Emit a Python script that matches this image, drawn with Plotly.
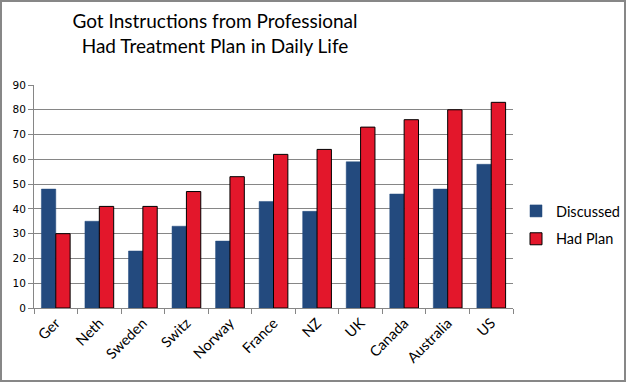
import plotly.graph_objects as go

countries = ["Ger", "Neth", "Sweden", "Switz", "Norway", "France", "NZ", "UK", "Canada", "Australia", "US"]
discussed = [48, 35, 23, 33, 27, 43, 39, 59, 46, 48, 58]
had_plan = [30, 41, 41, 47, 53, 62, 64, 73, 76, 80, 83]
y_ticks = list(range(0, 91, 10))

W, H = 626, 382
L, R, T, B = 34, 113, 85, 74
pw, ph = W - L - R, H - T - B

fig = go.Figure()
fig.add_trace(go.Bar(name="Discussed", x=countries, y=discussed, legendgroup="d",
                     marker=dict(color="#234A7E", line=dict(color="#234A7E", width=0.5))))
fig.add_trace(go.Bar(name="Had Plan", x=countries, y=had_plan, legendgroup="h",
                     marker=dict(color="#E3172B", line=dict(color="#000000", width=1))))

fig.update_layout(
    width=W, height=H, autosize=False,
    margin=dict(l=L, r=R, t=T, b=B, autoexpand=False),
    paper_bgcolor="white", plot_bgcolor="white",
    barmode="group", bargap=0.34, bargroupgap=0,
    title=dict(text="Got Instructions from Professional<br>Had Treatment Plan in Daily Life",
               xref="container", yref="container",
               x=215 / W, xanchor="center", y=1 - 28 / H, yanchor="middle",
               font=dict(family="Lato, Open Sans, sans-serif", size=19, color="#000000")),
    legend=dict(xref="container", yref="container",
                x=516 / W, y=1 - 225 / H, xanchor="left", yanchor="middle",
                font=dict(family="Lato, Open Sans, sans-serif", size=14.5, color="#000000"),
                itemwidth=30, tracegroupgap=6, bgcolor="rgba(0,0,0,0)"),
    xaxis=dict(tickson="boundaries", ticks="outside", ticklen=5, tickcolor="#868686",
               showline=True, linecolor="#868686", linewidth=1, tickangle=-45,
               tickfont=dict(family="Lato, Open Sans, sans-serif", size=14.5, color="#000000"),
               showgrid=False, automargin=False),
    yaxis=dict(range=[0, 90], tickvals=y_ticks, ticks="outside", ticklen=5, tickcolor="#868686",
               showline=True, linecolor="#868686", linewidth=1,
               gridcolor="#868686", gridwidth=1, zeroline=False, automargin=False,
               tickfont=dict(family="DejaVu Sans, Verdana, sans-serif", size=10.5, color="#000000")),
    font=dict(family="Lato, Open Sans, sans-serif"),
)

fig.add_shape(type="rect", xref="paper", yref="paper",
              x0=(1 - L) / pw, x1=(W - 1 - L) / pw, y0=-(B - 1) / ph, y1=1 + (T - 1) / ph,
              line=dict(color="#878787", width=2), fillcolor="rgba(0,0,0,0)", layer="above")

fig.write_html("out.html", config={"displayModeBar": False},
               post_script="document.body.style.margin='0';")
